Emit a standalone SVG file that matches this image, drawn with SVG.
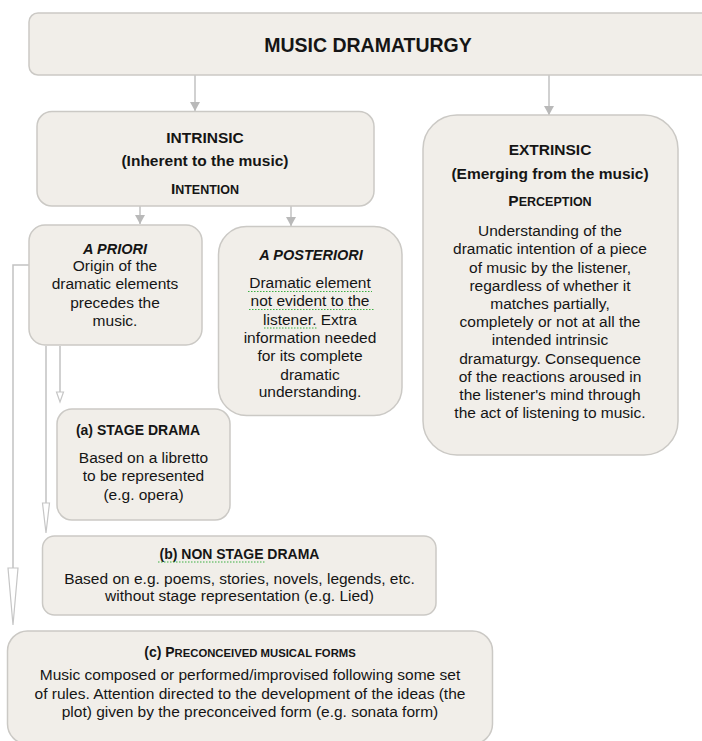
<svg xmlns="http://www.w3.org/2000/svg" width="702" height="741" viewBox="0 0 702 741">
<defs>
<style>
.box{fill:#f1eee9;stroke:#cbc9c5;stroke-width:1.5}
.t{font-family:"Liberation Sans",Arial,sans-serif;font-size:15.5px;fill:#151515;text-anchor:middle}
.b{font-weight:bold}
.h{font-weight:bold;font-size:14px}
.bi{font-weight:bold;font-style:italic;font-size:14.5px}
.sc{font-size:12.5px}
.conn{stroke:#c2c2c2;stroke-width:1.5;fill:none}
.hol{fill:#ffffff;stroke:#c6c6c6;stroke-width:1.2}
.sq{stroke:#3cb043;stroke-width:1.2;stroke-dasharray:1.5 1.5;fill:none}
</style>
<marker id="arr" markerUnits="userSpaceOnUse" markerWidth="10" markerHeight="10" refX="9" refY="5" orient="auto">
<path d="M0,0 L9,5 L0,10 z" fill="#b9b9b9"/>
</marker>
</defs>
<rect width="702" height="741" fill="#ffffff"/>

<g id="connectors">
<line class="conn" x1="195" y1="75" x2="195" y2="111" marker-end="url(#arr)"/>
<line class="conn" x1="549" y1="75" x2="549" y2="115" marker-end="url(#arr)"/>
<line class="conn" x1="140" y1="206" x2="140" y2="224" marker-end="url(#arr)"/>
<line class="conn" x1="291" y1="206" x2="291" y2="226" marker-end="url(#arr)"/>
<polyline class="conn" points="29,265 13,265 13,568"/>
<polygon class="hol" points="8,568 18,568 13,625"/>
<line class="conn" x1="46" y1="346" x2="46" y2="503"/>
<polygon class="hol" points="42.5,503 49.5,503 46,533"/>
<line class="conn" x1="60" y1="346" x2="60" y2="392"/>
<polygon class="hol" points="56.5,392 63.5,392 60,402"/>
</g>

<g id="music-dramaturgy">
<rect class="box" x="29" y="13" width="690" height="62" rx="9"/>
<text class="t b" x="368" y="52" style="font-size:19.5px">MUSIC DRAMATURGY</text>
</g>

<g id="intrinsic">
<rect class="box" x="37" y="111.5" width="337" height="94.5" rx="15"/>
<text class="t b" x="205" y="143">INTRINSIC</text>
<text class="t b" x="205" y="166">(Inherent to the music)</text>
<text class="t b" x="205" y="194">I<tspan class="sc">NTENTION</tspan></text>
</g>

<g id="extrinsic">
<rect class="box" x="423" y="115" width="255" height="340" rx="34"/>
<text class="t b" x="550" y="155">EXTRINSIC</text>
<text class="t b" x="550" y="179">(Emerging from the music)</text>
<text class="t b" x="550" y="206">P<tspan class="sc">ERCEPTION</tspan></text>
<text class="t" x="550" y="236">Understanding of the</text>
<text class="t" x="550" y="254.3">dramatic intention of a piece</text>
<text class="t" x="550" y="272.5">of music by the listener,</text>
<text class="t" x="550" y="290.8">regardless of whether it</text>
<text class="t" x="550" y="309">matches partially,</text>
<text class="t" x="550" y="327">completely or not at all the</text>
<text class="t" x="550" y="345.3">intended intrinsic</text>
<text class="t" x="550" y="363.5">dramaturgy. Consequence</text>
<text class="t" x="550" y="381.7">of the reactions aroused in</text>
<text class="t" x="550" y="400">the listener's mind through</text>
<text class="t" x="550" y="418.3">the act of listening to music.</text>
</g>

<g id="a-priori">
<rect class="box" x="29" y="225" width="173" height="120" rx="16"/>
<text class="t bi" x="115" y="254">A PRIORI</text>
<text class="t" x="115" y="271">Origin of the</text>
<text class="t" x="115" y="289">dramatic elements</text>
<text class="t" x="115" y="307.5">precedes the</text>
<text class="t" x="115" y="326">music.</text>
</g>

<g id="a-posteriori">
<rect class="box" x="218.5" y="226.5" width="183.5" height="189" rx="28"/>
<text class="t bi" x="311" y="260">A POSTERIORI</text>
<text class="t" x="310" y="288">Dramatic element</text>
<text class="t" x="310" y="306">not evident to the</text>
<text class="t" x="310" y="324.5">listener. Extra</text>
<text class="t" x="310" y="343">information needed</text>
<text class="t" x="310" y="361">for its complete</text>
<text class="t" x="310" y="379.5">dramatic</text>
<text class="t" x="310" y="397">understanding.</text>
<path class="sq" d="M248,291.5 H372 M249,309.5 H375 M264,328 H318"/>
</g>

<g id="stage-drama">
<rect class="box" x="57" y="409" width="173" height="111" rx="15"/>
<text class="t h" x="138" y="434.5">(a) STAGE DRAMA</text>
<text class="t" x="143.5" y="462.5">Based on a libretto</text>
<text class="t" x="143.5" y="481">to be represented</text>
<text class="t" x="143.5" y="500">(e.g. opera)</text>
</g>

<g id="non-stage-drama">
<rect class="box" x="42.5" y="536" width="393.5" height="79" rx="12"/>
<text class="t h" x="239.5" y="558.5">(b) NON STAGE DRAMA</text>
<path class="sq" d="M158,562 H265"/>
<text class="t" x="239.5" y="583.5">Based on e.g. poems, stories, novels, legends, etc.</text>
<text class="t" x="239.5" y="601">without stage representation (e.g. Lied)</text>
</g>

<g id="preconceived-forms">
<rect class="box" x="7.5" y="631" width="485" height="113" rx="20"/>
<text class="t h" x="250" y="657">(c) P<tspan style="font-size:11.3px">RECONCEIVED MUSICAL FORMS</tspan></text>
<text class="t" x="250" y="680">Music composed or performed/improvised following some set</text>
<text class="t" x="250" y="698.7">of rules. Attention directed to the development of the ideas (the</text>
<text class="t" x="250" y="717.3">plot) given by the preconceived form (e.g. sonata form)</text>
</g>
</svg>
